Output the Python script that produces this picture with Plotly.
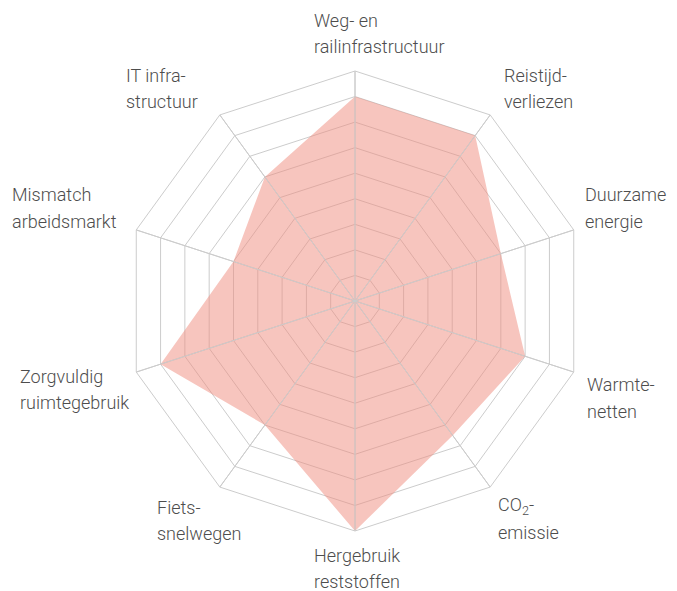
import plotly.graph_objects as go

categories = [
    "Weg- en railinfrastructuur", "Reistijdverliezen", "Duurzame energie",
    "Warmtenetten", "CO2-emissie", "Hergebruik reststoffen", "Fietssnelwegen",
    "Zorgvuldig ruimtegebruik", "Mismatch arbeidsmarkt", "IT infrastructuur",
]
values = [8, 8, 6, 7, 6.5, 9, 6, 8, 5, 6]
label_lines = [
    ["Weg- en", "railinfrastructuur"],
    ["Reistijd-", "verliezen"],
    ["Duurzame", "energie"],
    ["Warmte-", "netten"],
    ["CO<sub>2</sub>-", "emissie"],
    ["Hergebruik", "reststoffen"],
    ["Fiets-", "snelwegen"],
    ["Zorgvuldig", "ruimtegebruik"],
    ["Mismatch", "arbeidsmarkt"],
    ["IT infra-", "structuur"],
]
r_max = 9

# page body margin offsets the figure by 8px
OFF = 8
W, H = 677 - OFF, 591 - OFF
# label placement (window pixels: left x, first-line centre y from top)
label_pos = [(313, 20), (503, 75), (584, 195), (586, 385), (497, 506),
             (313, 555), (156, 507), (19, 376), (11, 195), (125, 75)]
LINE_GAP = 26.5

GRID = "rgb(204,204,204)"
TEXT = "#4d4d4d"

fig = go.Figure()
fig.add_trace(go.Scatterpolar(
    r=values + [values[0]], theta=categories + [categories[0]],
    mode="none", fill="toself", fillcolor="rgba(240,140,125,0.5)",
    hoverinfo="skip", showlegend=False,
))
# spokes drawn over the fill
sp_r, sp_t = [], []
for c in categories:
    sp_r += [0, r_max, None]
    sp_t += [c, c, None]
fig.add_trace(go.Scatterpolar(
    r=sp_r, theta=sp_t, mode="lines",
    line=dict(color=GRID, width=1), hoverinfo="skip", showlegend=False,
))

cx, cy, R = 355 - OFF, 301 - OFF, 230
fig.update_layout(
    width=W, height=H,
    margin=dict(l=0, r=0, t=0, b=0),
    paper_bgcolor="white", plot_bgcolor="white",
    showlegend=False,
    polar=dict(
        domain=dict(x=[(cx - R) / W, (cx + R) / W],
                    y=[(H - cy - R) / H, (H - cy + R) / H]),
        gridshape="linear",
        bgcolor="white",
        angularaxis=dict(
            categoryorder="array", categoryarray=categories,
            direction="clockwise", rotation=90,
            showticklabels=False, ticks="",
            showgrid=True, gridcolor=GRID, gridwidth=1,
            showline=True, linecolor=GRID, linewidth=1,
        ),
        radialaxis=dict(
            range=[0, r_max], dtick=1, tick0=0,
            showticklabels=False, ticks="", showline=False,
            showgrid=True, gridcolor=GRID, gridwidth=1,
        ),
    ),
)

annotations = []
for lines, (lx, ly) in zip(label_lines, label_pos):
    for i, txt in enumerate(lines):
        annotations.append(dict(
            x=(lx - OFF) / W, y=1 - (ly - OFF + i * LINE_GAP) / H,
            xref="paper", yref="paper", xanchor="left", yanchor="middle",
            text=txt, showarrow=False, align="left", borderpad=0,
            font=dict(family="Roboto", size=18, color=TEXT, weight=300),
        ))
fig.update_layout(annotations=annotations)

fig.write_html("out.html")
